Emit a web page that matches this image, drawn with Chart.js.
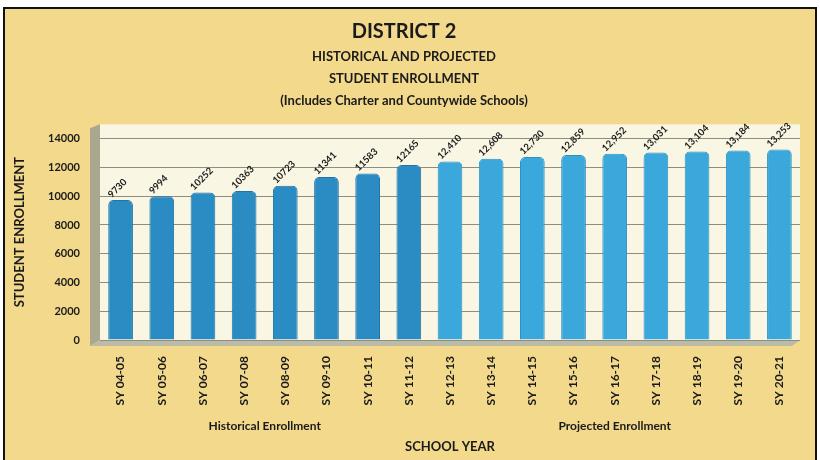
<!DOCTYPE html>
<html>
<head>
<meta charset="utf-8">
<script src="https://cdn.jsdelivr.net/npm/chart.js@4"></script>
<style>
  html, body { margin: 0; padding: 0; background: #fff; }
  #wrap { width: 820px; height: 460px; }
</style>
</head>
<body>
<div id="wrap"><canvas id="chart" width="820" height="460"></canvas></div>
<script>
// School years and enrollment (historical first, then projected)
const schoolYears = ['SY 04-05', 'SY 05-06', 'SY 06-07', 'SY 07-08', 'SY 08-09', 'SY 09-10',
    'SY 10-11', 'SY 11-12', 'SY 12-13', 'SY 13-14', 'SY 14-15', 'SY 15-16', 'SY 16-17',
    'SY 17-18', 'SY 18-19', 'SY 19-20', 'SY 20-21'];
const enrollment = [9730, 9994, 10252, 10363, 10723, 11341, 11583, 12165, 12410, 12608,
    12730, 12859, 12952, 13031, 13104, 13184, 13253];
const valueLabels = ['9730', '9994', '10252', '10363', '10723', '11341', '11583', '12165',
    '12,410', '12,608', '12,730', '12,859', '12,952', '13,031', '13,104', '13,184', '13,253'];
const historicalCount = 8;
const groupNames = ['Historical Enrollment', 'Projected Enrollment'];
const yTicks = [0, 2000, 4000, 6000, 8000, 10000, 12000, 14000];

const FONT = 'Lato, "Open Sans", sans-serif';
const barColors = enrollment.map((v, i) => i < historicalCount ? '#2a8cc2' : '#3aa8da');
const barBorders = enrollment.map((v, i) => i < historicalCount ? '#1f76a6' : '#2b93c4');

// parchment background, border, 3D-ish walls
const backdrop = {
    id: 'backdrop',
    beforeDraw(chart) {
        const { ctx, chartArea: a } = chart;
        ctx.save();
        ctx.fillStyle = '#fff';
        ctx.fillRect(0, 0, chart.width, chart.height);
        ctx.fillStyle = '#f2d98c';
        ctx.fillRect(4, 8, chart.width - 8, chart.height - 8);
        ctx.strokeStyle = '#111';
        ctx.lineWidth = 2;
        ctx.strokeRect(4, 8, chart.width - 8, chart.height - 6);
        // back wall
        ctx.fillStyle = '#faf6e4';
        ctx.fillRect(a.left, a.top, a.right - a.left, a.bottom - a.top);
        // left side wall
        ctx.fillStyle = '#a9a78e';
        ctx.beginPath();
        ctx.moveTo(a.left - 10, a.top + 4);
        ctx.lineTo(a.left, a.top);
        ctx.lineTo(a.left, a.bottom);
        ctx.lineTo(a.left - 10, a.bottom + 6);
        ctx.closePath();
        ctx.fill();
        // floor
        ctx.fillStyle = '#bcbba8';
        ctx.beginPath();
        ctx.moveTo(a.left, a.bottom);
        ctx.lineTo(a.right, a.bottom);
        ctx.lineTo(a.right - 8, a.bottom + 6);
        ctx.lineTo(a.left - 10, a.bottom + 6);
        ctx.closePath();
        ctx.fill();
        ctx.restore();
    }
};

// rotated value labels and group captions under the axis
const annotations = {
    id: 'annotations',
    afterDatasetsDraw(chart) {
        const { ctx } = chart;
        const meta = chart.getDatasetMeta(0);
        ctx.save();
        ctx.fillStyle = '#1a1a1a';
        ctx.font = 'bold 9.5px ' + FONT;
        ctx.textAlign = 'left';
        ctx.textBaseline = 'middle';
        meta.data.forEach((bar, i) => {
            ctx.save();
            ctx.translate(bar.x - 11, bar.y - 4);
            ctx.rotate(-Math.PI / 4);
            ctx.fillText(valueLabels[i], 0, 0);
            ctx.restore();
        });
        const xs = chart.scales.x;
        const groups = [[0, historicalCount - 1], [historicalCount, schoolYears.length - 1]];
        ctx.font = 'bold 12px ' + FONT;
        ctx.textAlign = 'center';
        groups.forEach((g, i) => {
            const cx = (xs.getPixelForValue(g[0]) + xs.getPixelForValue(g[1])) / 2;
            ctx.fillText(groupNames[i], cx, 426);
        });
        ctx.restore();
    }
};

new Chart(document.getElementById('chart'), {
    type: 'bar',
    data: {
        labels: schoolYears,
        datasets: [{
            data: enrollment,
            backgroundColor: barColors,
            borderColor: barBorders,
            borderWidth: 1,
            borderRadius: { topLeft: 5, topRight: 5 },
            borderSkipped: 'bottom',
            barPercentage: 0.6,
            categoryPercentage: 1
        }]
    },
    options: {
        responsive: false,
        animation: false,
        layout: { padding: { left: 8, right: 20, top: 0, bottom: 0 } },
        plugins: {
            legend: { display: false },
            tooltip: { enabled: false },
            title: {
                display: true,
                text: 'DISTRICT 2',
                color: '#1a1a1a',
                font: { family: FONT, size: 20, weight: 'bold' },
                padding: { top: 20, bottom: 2 }
            },
            subtitle: {
                display: true,
                text: ['HISTORICAL AND PROJECTED', 'STUDENT ENROLLMENT', '(Includes Charter and Countywide Schools)'],
                color: '#1a1a1a',
                font: { family: FONT, size: 13, weight: 'bold', lineHeight: 1.7 },
                padding: { top: 0, bottom: 12 }
            }
        },
        scales: {
            x: {
                grid: { display: false },
                border: { display: false },
                ticks: {
                    color: '#1a1a1a',
                    font: { family: FONT, size: 12, weight: 'bold' },
                    minRotation: 90,
                    maxRotation: 90,
                    padding: 8
                },
                title: {
                    display: true,
                    text: 'SCHOOL YEAR',
                    color: '#1a1a1a',
                    font: { family: FONT, size: 13, weight: 'bold' },
                    padding: { top: 0, bottom: 5 }
                },
                afterFit(scale) { scale.height = 120; }
            },
            y: {
                min: 0,
                max: 15000,
                afterBuildTicks(scale) { scale.ticks = yTicks.map(v => ({ value: v })); },
                grid: { color: '#8f8c80', lineWidth: 1, drawTicks: false },
                border: { display: false },
                ticks: {
                    color: '#1a1a1a',
                    font: { family: FONT, size: 11, weight: 'bold' },
                    padding: 20,
                    callback: v => String(v)
                },
                title: {
                    display: true,
                    text: 'STUDENT ENROLLMENT',
                    color: '#1a1a1a',
                    font: { family: FONT, size: 13, weight: 'bold' },
                    padding: { top: 4, bottom: 0 }
                },
                afterFit(scale) { scale.width = 92; }
            }
        }
    },
    plugins: [backdrop, annotations]
});
</script>
</body>
</html>
